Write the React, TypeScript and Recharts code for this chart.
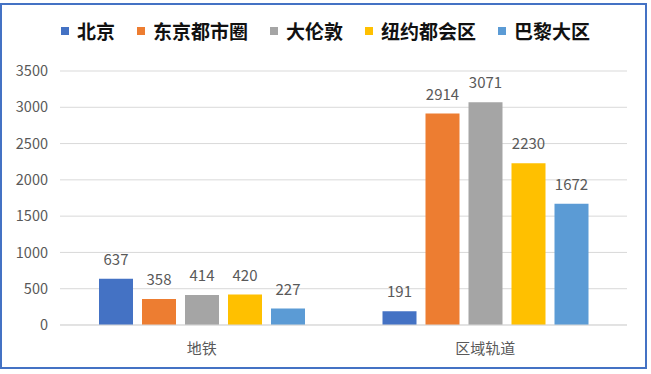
import React from 'react'
import { BarChart, Bar, XAxis, YAxis, CartesianGrid, Legend, LabelList } from 'recharts'

const categories = ['地铁', '区域轨道']
const seriesNames = ['北京', '东京都市圈', '大伦敦', '纽约都会区', '巴黎大区']
const beijing = [637, 191]
const tokyo = [358, 2914]
const london = [414, 3071]
const newYork = [420, 2230]
const paris = [227, 1672]
const yTicks = [0, 500, 1000, 1500, 2000, 2500, 3000, 3500]

const colors = ['#4472C4', '#ED7D31', '#A5A5A5', '#FFC000', '#5B9BD5']
const seriesValues = [beijing, tokyo, london, newYork, paris]

const data = categories.map((name, i) => {
  const row: Record<string, string | number> = { name }
  seriesNames.forEach((s, j) => {
    row[s] = seriesValues[j][i]
  })
  return row
})

const font = '"Noto Sans CJK SC", "Noto Sans", sans-serif'

function LegendContent() {
  return (
    <div style={{ display: 'flex', justifyContent: 'center', alignItems: 'center', fontFamily: font, height: 20 }}>
      {seriesNames.map((s, i) => (
        <div key={s} style={{ display: 'flex', alignItems: 'center', margin: '0 11px' }}>
          <span style={{ width: 8, height: 8, background: colors[i], display: 'inline-block', marginRight: 8 }} />
          <span style={{ fontSize: 19, fontWeight: 700, color: '#111', lineHeight: '20px' }}>{s}</span>
        </div>
      ))}
    </div>
  )
}

export default function App() {
  return (
    <div style={{ position: 'absolute', left: 0, top: 0, width: 651, height: 374, background: '#fff' }}>
      <div
        style={{
          position: 'absolute',
          left: 0,
          top: 3,
          width: 647,
          height: 366,
          border: '2px solid #4472C4',
          boxSizing: 'border-box',
        }}
      />
      <div style={{ position: 'absolute', left: 0, top: 0 }}>
        <BarChart
          width={651}
          height={374}
          data={data}
          margin={{ top: 51, right: 24, bottom: 19, left: 10 }}
          barSize={34}
          barGap={9}
        >
          <CartesianGrid vertical={false} stroke="#D9D9D9" />
          <XAxis
            dataKey="name"
            axisLine={{ stroke: '#D9D9D9' }}
            tickLine={false}
            tickSize={0}
            tickMargin={18}
            height={30}
            tick={{ fontSize: 15, fill: '#595959', fontFamily: font }}
          />
          <YAxis
            domain={[0, 3500]}
            ticks={yTicks}
            axisLine={false}
            tickLine={false}
            tickSize={0}
            tickMargin={12}
            width={50}
            tick={{ fontSize: 14.5, fill: '#595959', fontFamily: font }}
          />
          <Legend
            verticalAlign="top"
            content={<LegendContent />}
            wrapperStyle={{ top: 21, left: 0, width: 651 }}
          />
          {seriesNames.map((s, i) => (
            <Bar key={s} dataKey={s} fill={colors[i]} isAnimationActive={false}>
              <LabelList
                dataKey={s}
                position="top"
                offset={14}
                style={{ fontSize: 15, fill: '#595959', fontFamily: font }}
              />
            </Bar>
          ))}
        </BarChart>
      </div>
    </div>
  )
}
